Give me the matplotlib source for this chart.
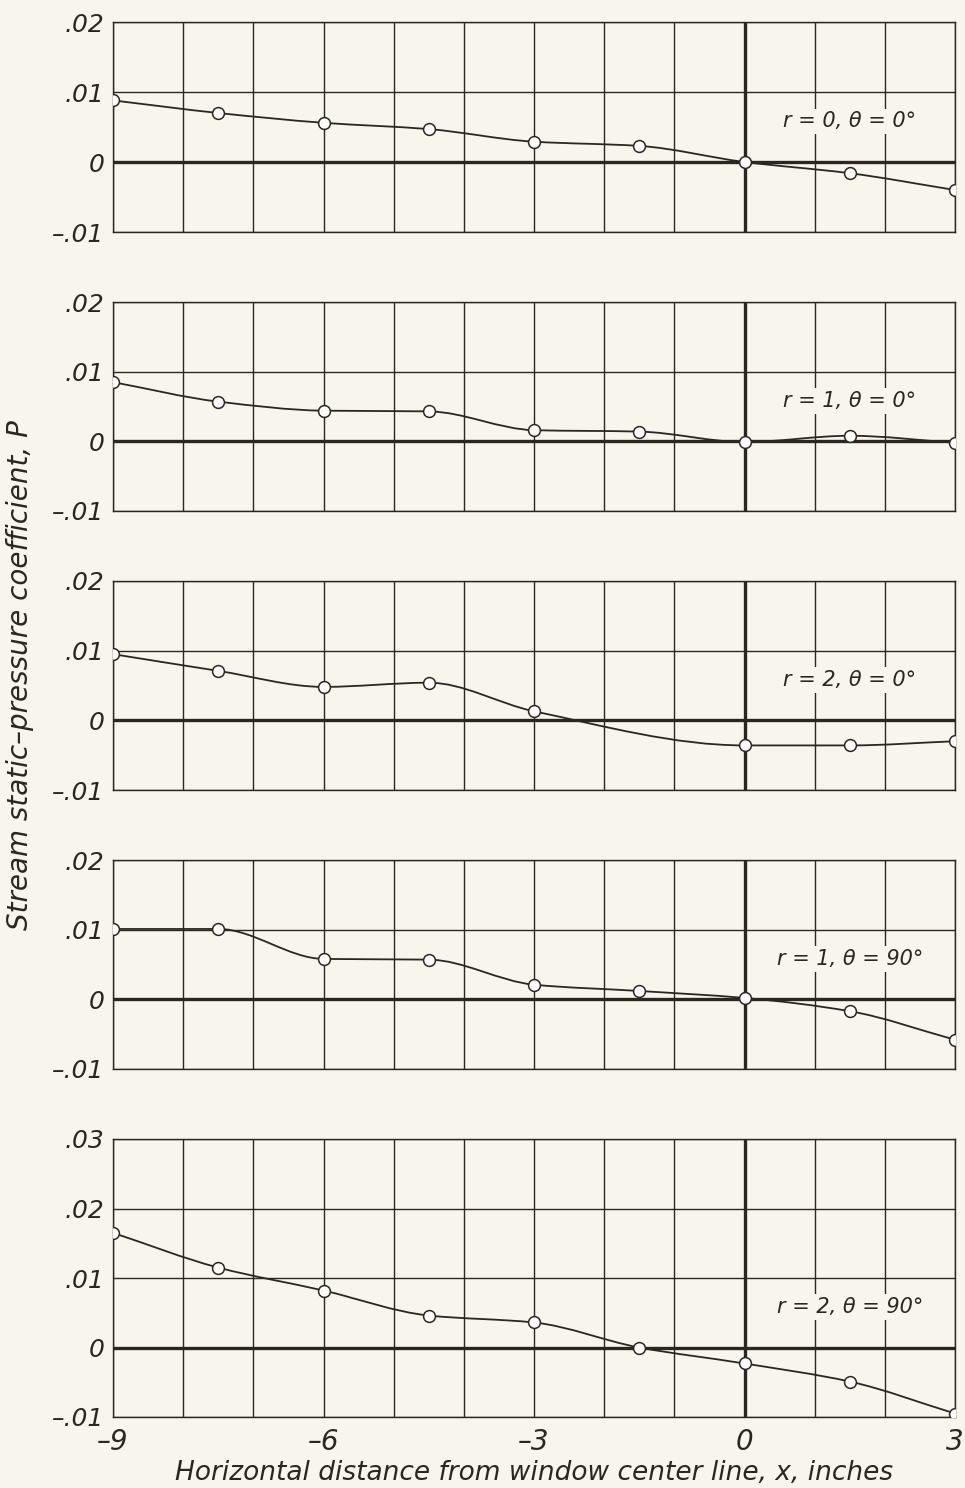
import numpy as np
import matplotlib.pyplot as plt
from matplotlib.path import Path
from matplotlib.patches import PathPatch

# stations along the window, inches
x_all = [-9, -7.5, -6, -4.5, -3, -1.5, 0, 1.5, 3]
x_r2_0 = [-9, -7.5, -6, -4.5, -3, 0, 1.5, 3]   # no reading at -1.5

p_r0_0 = [0.0088, 0.0070, 0.0056, 0.0047, 0.0029, 0.0023, 0.0000, -0.0016, -0.0040]
p_r1_0 = [0.0085, 0.0057, 0.0044, 0.0043, 0.0016, 0.0014, -0.0001, 0.0008, -0.0002]
p_r2_0 = [0.0095, 0.0071, 0.0048, 0.0054, 0.0013, -0.0036, -0.0036, -0.0030]
p_r1_90 = [0.0101, 0.0101, 0.0058, 0.0057, 0.0021, 0.0012, 0.0002, -0.0017, -0.0058]
p_r2_90 = [0.0165, 0.0115, 0.0082, 0.0046, 0.0036, 0.0000, -0.0023, -0.0049, -0.0095]

labels = ["r = 0, θ = 0°", "r = 1, θ = 0°", "r = 2, θ = 0°",
          "r = 1, θ = 90°", "r = 2, θ = 90°"]
series = [(x_all, p_r0_0), (x_all, p_r1_0), (x_r2_0, p_r2_0),
          (x_all, p_r1_90), (x_all, p_r2_90)]

paper = "#f7f5ec"
ink = "#2b2622"
plt.rcParams['font.family'] = ['DejaVu Sans']


def faired(ax, x, y):
    # smooth faired curve through the points (monotone cubic as bezier path)
    x = np.asarray(x, float)
    y = np.asarray(y, float)
    h = np.diff(x)
    d = np.diff(y) / h
    m = np.zeros_like(y)
    m[0], m[-1] = d[0], d[-1]
    for i in range(1, len(y) - 1):
        if d[i - 1] * d[i] > 0:
            w1 = 2 * h[i] + h[i - 1]
            w2 = h[i] + 2 * h[i - 1]
            m[i] = (w1 + w2) / (w1 / d[i - 1] + w2 / d[i])
    verts = [(x[0], y[0])]
    codes = [Path.MOVETO]
    for i in range(len(x) - 1):
        verts += [(x[i] + h[i] / 3, y[i] + m[i] * h[i] / 3),
                  (x[i + 1] - h[i] / 3, y[i + 1] - m[i + 1] * h[i] / 3),
                  (x[i + 1], y[i + 1])]
        codes += [Path.CURVE4] * 3
    ax.add_patch(PathPatch(Path(verts, codes), fill=False, edgecolor=ink,
                           lw=1.3, zorder=3))


fig = plt.figure(figsize=(9.65, 14.88), dpi=100, facecolor=paper)
left, width = 113 / 965, 842 / 965
boxes = [(22, 232), (302, 511), (581, 790), (860, 1069), (1139, 1417)]

for k, (top, bot) in enumerate(boxes):
    ax = fig.add_axes([left, 1 - bot / 1488, width, (bot - top) / 1488])
    ax.set_facecolor(paper)
    x, y = series[k]
    ax.set_xlim(-9, 3)
    if k == 4:
        yt = [-0.01, 0, 0.01, 0.02, 0.03]
        ytl = ["\u2013.01", "0", ".01", ".02", ".03"]
    else:
        yt = [-0.01, 0, 0.01, 0.02]
        ytl = ["\u2013.01", "0", ".01", ".02"]
    ax.set_ylim(yt[0], yt[-1])
    ax.set_yticks(yt)
    ax.set_yticklabels(ytl, fontsize=18, style='italic', color=ink)
    ax.set_xticks(np.arange(-9, 4, 1), minor=False)
    ax.grid(True, color=ink, lw=1.0, zorder=1)
    ax.axhline(0, color=ink, lw=2.4, zorder=2)
    ax.axvline(0, color=ink, lw=2.4, zorder=2)
    for s in ax.spines.values():
        s.set_color(ink)
        s.set_linewidth(1.0)
    ax.tick_params(length=0, pad=6)
    if k == 4:
        ax.set_xticks([-9, -6, -3, 0, 3], ["\u20139", "\u20136", "\u20133", "0", "3"])
        ax.set_xticks(np.arange(-9, 4, 1), minor=True)
        ax.grid(True, which='minor', axis='x', color=ink, lw=1.0, zorder=1)
        ax.tick_params(axis='x', which='both', length=0, labelsize=20, pad=8,
                       labelcolor=ink)
        for t in ax.get_xticklabels():
            t.set_style('italic')
        ax.set_xlabel("Horizontal distance from window center line, x, inches",
                      fontsize=19, style='italic', color=ink, labelpad=3)
    else:
        ax.set_xticklabels([])
    faired(ax, x, y)
    ax.plot(x, y, 'o', ms=8.5, mfc='white', mec=ink, mew=1.1, zorder=4)
    ax.text(1.5, 0.0058, labels[k], ha='center', va='center', fontsize=15,
            style='italic', color=ink, zorder=3,
            bbox=dict(facecolor=paper, edgecolor='none', pad=2))

fig.text(0.021, 1 - 675 / 1488, "Stream static\u2013pressure coefficient, P",
         rotation=90, ha='center', va='center', fontsize=20, style='italic',
         color=ink)

fig.savefig("out.png", dpi=100, facecolor=paper)
